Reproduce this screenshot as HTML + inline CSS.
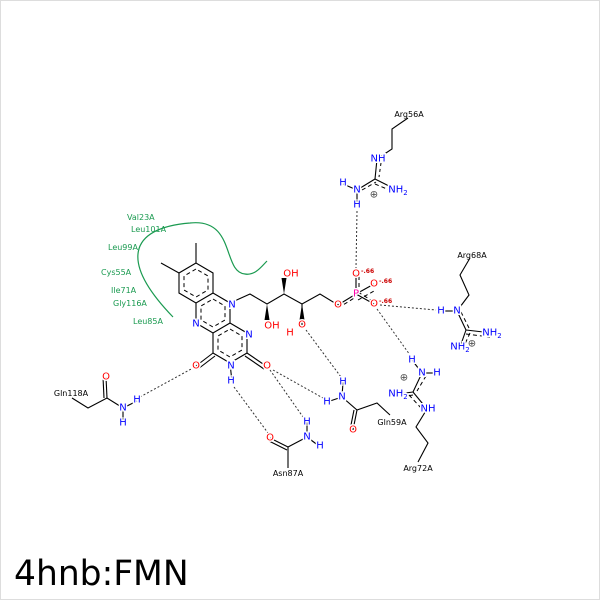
<!DOCTYPE html>
<html><head><meta charset="utf-8"><style>
html,body{margin:0;padding:0;background:#fff}
svg text{font-family:"DejaVu Sans","Liberation Sans",sans-serif}
.a{font-size:10px;text-anchor:middle;dominant-baseline:central;paint-order:stroke;stroke:#fff;stroke-width:3px}
.r{font-size:8px;fill:#000}
.g{font-size:8px;fill:#1a9a50}
</style></head><body>
<svg width="600" height="600" viewBox="0 0 600 600" xmlns="http://www.w3.org/2000/svg">
<rect x="0.5" y="0.5" width="599" height="599" fill="#fff" stroke="#ddd"/>
<path d="M173,317 C120,262 128,228 190,223 C236,218 222,272 245,274 C255,276 262,266 267,261" fill="none" stroke="#1a9a50" stroke-width="1.2"/>
<g class="g">
<text x="127" y="220">Val23A</text>
<text x="131" y="232">Leu101A</text>
<text x="108" y="250">Leu99A</text>
<text x="101" y="275">Cys55A</text>
<text x="111" y="293">Ile71A</text>
<text x="113" y="306">Gly116A</text>
<text x="133" y="324">Leu85A</text>
</g>
<g stroke="#000" stroke-width="1.1" fill="none">
<polygon points="196,263 179,273 179,293 196,303 213,293 213,273"/>
<polyline points="213,293 230,303 230,323 213,333 196,323 196,303"/>
<polyline points="230,323 247,333 247,353 230,363 213,353 213,333"/>
<line x1="196" y1="263" x2="196" y2="243"/><line x1="179" y1="273" x2="161" y2="263"/>
<line x1="213" y1="353" x2="196" y2="366"/><line x1="215" y1="356" x2="198" y2="369"/>
<line x1="247" y1="353" x2="266" y2="366"/><line x1="245" y1="356" x2="264" y2="369"/>
<line x1="230" y1="363" x2="232" y2="382"/>
<polyline points="230,303 250,294 267,304 284,294 302,304 320,294 338,305 356,294"/>
<line x1="302" y1="304" x2="302" y2="325"/>
<line x1="356" y1="294" x2="356" y2="274"/><line x1="356" y1="294" x2="374" y2="284"/><line x1="356" y1="294" x2="374" y2="304"/>
<polyline points="408,118 392,129 392,149 377,159"/>
<line x1="377" y1="159" x2="375" y2="179"/><line x1="375" y1="179" x2="357" y2="190"/><line x1="375" y1="179" x2="397" y2="190"/>
<line x1="357" y1="190" x2="343" y2="184"/><line x1="357" y1="190" x2="357" y2="205"/>
<polyline points="470,258 460,275 469,295 457,311"/>
<line x1="457" y1="311" x2="441" y2="311"/><line x1="457" y1="311" x2="466" y2="330"/>
<line x1="466" y1="330" x2="492" y2="333"/><line x1="466" y1="330" x2="460" y2="347"/>
<line x1="412" y1="360" x2="422" y2="373"/><line x1="422" y1="373" x2="437" y2="373"/>
<line x1="422" y1="373" x2="413" y2="392"/><line x1="413" y1="392" x2="398" y2="394"/><line x1="413" y1="392" x2="427" y2="409"/>
<polyline points="427,409 416,427 428,443 418,462"/>
<polyline points="72,398 88,408 107,398 123,408"/>
<line x1="107" y1="398" x2="106" y2="377"/><line x1="104" y1="398" x2="103" y2="377"/>
<line x1="123" y1="408" x2="137" y2="401"/><line x1="123" y1="408" x2="123" y2="423"/>
<line x1="270" y1="438" x2="288" y2="447"/><line x1="269" y1="441" x2="287" y2="450"/>
<line x1="288" y1="447" x2="307" y2="437"/><line x1="288" y1="447" x2="288" y2="468"/>
<line x1="307" y1="437" x2="307" y2="422"/><line x1="307" y1="437" x2="319" y2="446"/>
<polyline points="327,402 342,397 357,410 377,403 390,415"/>
<line x1="342" y1="397" x2="343" y2="382"/>
<line x1="357" y1="410" x2="353" y2="430"/><line x1="354" y1="410" x2="350" y2="430"/>
</g>
<g stroke="#000" stroke-width="1" fill="none" stroke-dasharray="4,3">
<polygon points="196,269 184,276 184,290 196,297 208,290 208,276"/>
<polygon points="213,299 225,306 225,320 213,327 201,320 201,306"/>
<polygon points="230,329 242,336 242,350 230,357 218,350 218,336"/>
<line x1="377" y1="163" x2="375" y2="177" stroke-dasharray="3,3" transform="translate(4,0)"/>
<line x1="360" y1="186" x2="374" y2="178" transform="translate(2,4)"/>
<line x1="376" y1="180" x2="395" y2="188" transform="translate(-1,4)"/>
<line x1="457" y1="313" x2="465" y2="329" transform="translate(4,-1)"/>
<line x1="466" y1="334" x2="490" y2="337"/>
<line x1="466" y1="332" x2="460" y2="345" transform="translate(4,1)"/>
<line x1="422" y1="375" x2="413" y2="390" transform="translate(4,1)"/>
<line x1="413" y1="395" x2="400" y2="397"/>
<line x1="413" y1="394" x2="426" y2="408" transform="translate(-4,1)"/>
<line x1="338" y1="308" x2="356" y2="297"/>
<line x1="358" y1="296" x2="374" y2="287" transform="translate(0,4)"/>
<line x1="358" y1="296" x2="374" y2="306" transform="translate(0,-4)"/>
<line x1="359" y1="294" x2="359" y2="276"/>
</g>
<polygon points="267,304 264.5,320 269.5,320" fill="#000"/>
<polygon points="284,294 281.5,278 286.5,278" fill="#000"/>
<polygon points="302,304 299.5,320 304.5,320" fill="#000"/>
<g stroke="#333" stroke-width="1" stroke-dasharray="2,2" fill="none">
<line x1="357" y1="211" x2="356" y2="268"/>
<line x1="380" y1="305" x2="436" y2="310"/>
<line x1="377" y1="309" x2="410" y2="355"/>
<line x1="140" y1="397" x2="193" y2="368"/>
<line x1="234" y1="387" x2="268" y2="433"/>
<line x1="270" y1="370" x2="303" y2="417"/>
<line x1="273" y1="370" x2="323" y2="398"/>
<line x1="306" y1="330" x2="341" y2="377"/>
</g>
<g class="a">
<text x="232" y="305" fill="#0000ff">N</text>
<text x="196" y="324" fill="#0000ff">N</text>
<text x="249" y="335" fill="#0000ff">N</text>
<text x="231" y="366" fill="#0000ff">N</text>
<text x="231" y="381" fill="#0000ff">H</text>
<text x="196" y="366" fill="#ff0000">O</text>
<text x="267" y="366" fill="#ff0000">O</text>
<text x="272" y="326" fill="#ff0000">OH</text>
<text x="291" y="274" fill="#ff0000">OH</text>
<text x="302" y="325" fill="#ff0000">O</text>
<text x="290" y="333" fill="#ff0000">H</text>
<text x="338" y="305" fill="#ff0000">O</text>
<text x="356" y="294" fill="#ff00aa">P</text>
<text x="356" y="274" fill="#ff0000">O</text>
<text x="374" y="284" fill="#ff0000">O</text>
<text x="374" y="304" fill="#ff0000">O</text>
<text x="378" y="159" fill="#0000ff">NH</text>
<text x="357" y="190" fill="#0000ff">N</text>
<text x="343" y="183" fill="#0000ff">H</text>
<text x="357" y="205" fill="#0000ff">H</text>
<text x="398" y="190" fill="#0000ff">NH<tspan font-size="7" dy="3">2</tspan></text>
<text x="457" y="311" fill="#0000ff">N</text>
<text x="441" y="311" fill="#0000ff">H</text>
<text x="492" y="333" fill="#0000ff">NH<tspan font-size="7" dy="3">2</tspan></text>
<text x="460" y="347" fill="#0000ff">NH<tspan font-size="7" dy="3">2</tspan></text>
<text x="412" y="360" fill="#0000ff">H</text>
<text x="422" y="373" fill="#0000ff">N</text>
<text x="437" y="373" fill="#0000ff">H</text>
<text x="398" y="394" fill="#0000ff">NH<tspan font-size="7" dy="3">2</tspan></text>
<text x="428" y="409" fill="#0000ff">NH</text>
<text x="106" y="377" fill="#ff0000">O</text>
<text x="123" y="408" fill="#0000ff">N</text>
<text x="137" y="400" fill="#0000ff">H</text>
<text x="123" y="423" fill="#0000ff">H</text>
<text x="270" y="438" fill="#ff0000">O</text>
<text x="307" y="437" fill="#0000ff">N</text>
<text x="307" y="422" fill="#0000ff">H</text>
<text x="320" y="446" fill="#0000ff">H</text>
<text x="327" y="402" fill="#0000ff">H</text>
<text x="342" y="397" fill="#0000ff">N</text>
<text x="343" y="382" fill="#0000ff">H</text>
<text x="353" y="430" fill="#ff0000">O</text>
</g>
<g font-size="6" fill="#cc0000" font-weight="bold">
<text x="361" y="273">-.66</text>
<text x="379" y="283">-.66</text>
<text x="379" y="303">-.66</text>
</g>
<g font-size="10" fill="#444" text-anchor="middle" dominant-baseline="central">
<text x="374" y="195">⊕</text><text x="472" y="344">⊕</text><text x="404" y="378">⊕</text>
</g>
<g class="r" text-anchor="middle">
<text x="409" y="117">Arg56A</text>
<text x="472" y="258">Arg68A</text>
<text x="418" y="471">Arg72A</text>
<text x="71" y="396">Gln118A</text>
<text x="288" y="476">Asn87A</text>
<text x="392" y="425">Gln59A</text>
</g>
<text x="14" y="585" font-size="34.5" font-family="DejaVu Sans,sans-serif" fill="#000">4hnb:FMN</text>
</svg>
</body></html>
